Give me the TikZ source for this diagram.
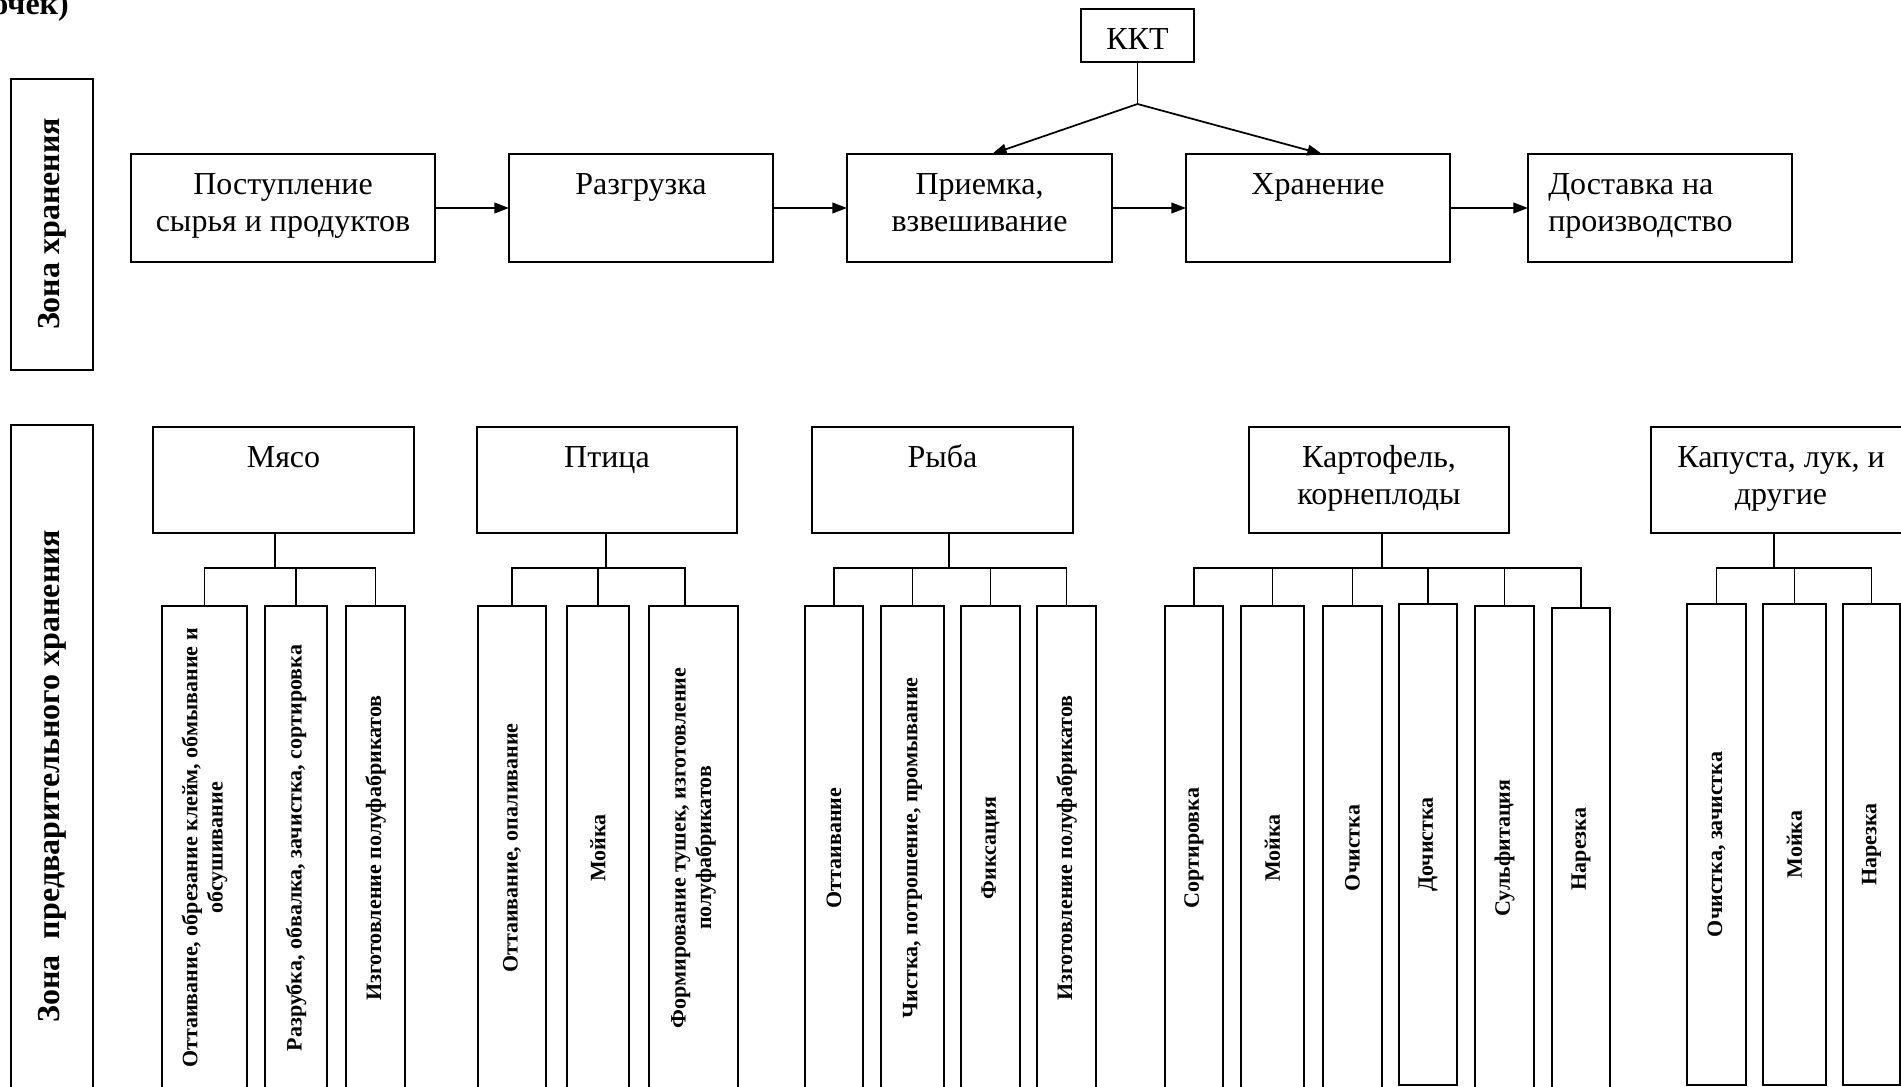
\documentclass[tikz,border=0pt]{standalone}
\usepackage{fontspec}
\setmainfont{Liberation Serif}
\usetikzlibrary{arrows.meta,calc}
\newcommand\bigf{\fontsize{24}{28}\selectfont}
\newcommand\subf{\bfseries\fontsize{16.5}{19}\selectfont}
\newcommand\mkbox[5]{\node[bx, minimum width={(#4-#2)*0.75pt}, minimum height={(#5-#3)*0.75pt}] (#1) at ({(#2+#4)/2},{(#3+#5)/2}) {};}
\tikzset{
  bx/.style={draw, line width=1.3pt, inner sep=0pt, outer sep=0pt},
  tt/.style={font=\bigf, inner sep=0pt, align=center, anchor=north},
  st/.style={font=\subf, inner sep=0pt, align=center, rotate=90},
  zt/.style={font=\bigf\bfseries, inner sep=0pt, rotate=90},
  ln/.style={line width=1.3pt},
  arr/.style={line width=1.3pt, -{Triangle[length=11pt,width=8pt]}},
}
\begin{document}
\begin{tikzpicture}[x=0.75pt,y=-0.75pt]
\useasboundingbox (0,0) rectangle (1901,1087);
\clip (0,0) rectangle (1901,1087);
\fill[white] (0,0) rectangle (1901,1087);

% header fragment
\node[font=\bigf\bfseries, anchor=base west, inner sep=0pt] (hdr) at (-8,15) {очек)};

% zone boxes
\mkbox{z1}{11}{79}{93}{370}
\mkbox{z2}{11}{425}{93}{1130}
\node[zt] (z1T) at (52,224) {Зона хранения};
\node[zt] (z2T) at (52,776) {Зона\ \ предварительного хранения};

% top row
\mkbox{kkt}{1081}{9}{1194}{62}
\mkbox{post}{131}{154}{435}{262}
\mkbox{razg}{509}{154}{773}{262}
\mkbox{prie}{847}{154}{1112}{262}
\mkbox{hran}{1186}{154}{1450}{262}
\mkbox{dost}{1528}{154}{1792}{262}
\node[tt] (kktT) at ($(kkt.north)+(0,13.87)$) {\strut ККТ};
\node[tt] (postT) at ($(post.north)+(0,13.87)$) {\strut Поступление\\сырья и продуктов};
\node[tt] (razgT) at ($(razg.north)+(0,13.87)$) {\strut Разгрузка};
\node[tt] (prieT) at ($(prie.north)+(0,13.87)$) {\strut Приемка,\\взвешивание};
\node[tt] (hranT) at ($(hran.north)+(0,13.87)$) {\strut Хранение};
\node[tt, anchor=north west, align=left] (dostT) at ($(dost.north west)+(20,13.87)$) {\strut Доставка на\\производство};

\draw[arr] (post.east) -- (razg.west);
\draw[arr] (razg.east) -- (prie.west);
\draw[arr] (prie.east) -- (hran.west);
\draw[arr] (hran.east) -- (dost.west);
\coordinate (kJ) at (1137.5,104);
\draw[ln] (kkt.south) -- (kJ);
\draw[arr] (kJ) -- ($(prie.north)+(12.5,0)$);
\draw[arr] (kJ) -- ($(hran.north)+(4,0)$);

% categories
\mkbox{mjaso}{153}{427}{414}{533}
\mkbox{ptica}{477}{427}{737}{533}
\mkbox{ryba}{812}{427}{1073}{533}
\mkbox{kart}{1249}{427}{1509}{533}
\mkbox{kap}{1651}{427}{1911}{533}
\node[tt] (mjasoT) at ($(mjaso.north)+(0,13.87)$) {\strut Мясо};
\node[tt] (pticaT) at ($(ptica.north)+(0,13.87)$) {\strut Птица};
\node[tt] (rybaT) at ($(ryba.north)+(0,13.87)$) {\strut Рыба};
\node[tt] (kartT) at ($(kart.north)+(0,13.87)$) {\strut Картофель,\\корнеплоды};
\node[tt] (kapT) at ($(kap.north)+(0,13.87)$) {\strut Капуста, лук, и\\другие};

% sub boxes: meat
\mkbox{m1}{162}{606}{247}{1090}
\mkbox{m2}{265}{606}{327}{1090}
\mkbox{m3}{346}{606}{405}{1090}
% poultry
\mkbox{p1}{478}{606}{546}{1090}
\mkbox{p2}{567}{606}{629}{1090}
\mkbox{p3}{649}{606}{738}{1090}
% fish
\mkbox{r1}{805}{606}{863}{1090}
\mkbox{r2}{881}{606}{944}{1090}
\mkbox{r3}{961}{606}{1020}{1090}
\mkbox{r4}{1037}{606}{1096}{1090}
% potato
\mkbox{k1}{1165}{606}{1223}{1090}
\mkbox{k2}{1241}{606}{1304}{1090}
\mkbox{k3}{1323}{606}{1382}{1090}
\mkbox{k4}{1399}{604}{1457}{1085}
\mkbox{k5}{1475}{606}{1534}{1090}
\mkbox{k6}{1552}{608}{1610}{1090}
% cabbage
\mkbox{c1}{1687}{604}{1746}{1085}
\mkbox{c2}{1763}{604}{1826}{1085}
\mkbox{c3}{1843}{604}{1900}{1085}

\node[st] (m1T) at (m1.center) {Оттаивание, обрезание клейм, обмывание и\\обсушивание};
\node[st] (m2T) at (m2.center) {Разрубка, обвалка, зачистка, сортировка};
\node[st] (m3T) at (m3.center) {Изготовление полуфабрикатов};
\node[st] (p1T) at (p1.center) {Оттаивание, опаливание};
\node[st] (p2T) at (p2.center) {Мойка};
\node[st] (p3T) at (p3.center) {Формирование тушек, изготовление\\полуфабрикатов};
\node[st] (r1T) at (r1.center) {Оттаивание};
\node[st] (r2T) at (r2.center) {Чистка, потрошение, промывание};
\node[st] (r3T) at (r3.center) {Фиксация};
\node[st] (r4T) at (r4.center) {Изготовление полуфабрикатов};
\node[st] (k1T) at (k1.center) {Сортировка};
\node[st] (k2T) at (k2.center) {Мойка};
\node[st] (k3T) at (k3.center) {Очистка};
\node[st] (k4T) at (k4.center) {Дочистка};
\node[st] (k5T) at (k5.center) {Сульфитация};
\node[st] (k6T) at (k6.center) {Нарезка};
\node[st] (c1T) at (c1.center) {Очистка, зачистка};
\node[st] (c2T) at (c2.center) {Мойка};
\node[st] (c3T) at (c3.center) {Нарезка};

% trees
\coordinate (mJ) at (275,568);
\draw[ln] (mjaso.south -| mJ) -- (mJ);
\draw[ln] (m1.north) -- (m1.north |- mJ) -- (m3.north |- mJ) -- (m3.north);
\draw[ln] (m2.north |- mJ) -- (m2.north);

\coordinate (pJ) at (606,568);
\coordinate (p3x) at ($(p3.north)+(-8.5,0)$);
\draw[ln] (ptica.south -| pJ) -- (pJ);
\draw[ln] (p1.north) -- (p1.north |- pJ) -- (p3x |- pJ) -- (p3x);
\draw[ln] (p2.north |- pJ) -- (p2.north);

\coordinate (rJ) at (949,568);
\draw[ln] (ryba.south -| rJ) -- (rJ);
\draw[ln] (r1.north) -- (r1.north |- rJ) -- (r4.north |- rJ) -- (r4.north);
\foreach \c in {r2,r3} \draw[ln] (\c.north |- rJ) -- (\c.north);

\coordinate (kJ2) at (1382,568);
\draw[ln] (kart.south -| kJ2) -- (kJ2);
\draw[ln] (k1.north) -- (k1.north |- kJ2) -- (k6.north |- kJ2) -- (k6.north);
\foreach \c in {k2,k3,k4,k5} \draw[ln] (\c.north |- kJ2) -- (\c.north);

\coordinate (cJ) at (1774,568);
\draw[ln] (kap.south -| cJ) -- (cJ);
\draw[ln] (c1.north) -- (c1.north |- cJ) -- (c3.north |- cJ) -- (c3.north);
\draw[ln] (c2.north |- cJ) -- (c2.north);
\end{tikzpicture}
\end{document}
